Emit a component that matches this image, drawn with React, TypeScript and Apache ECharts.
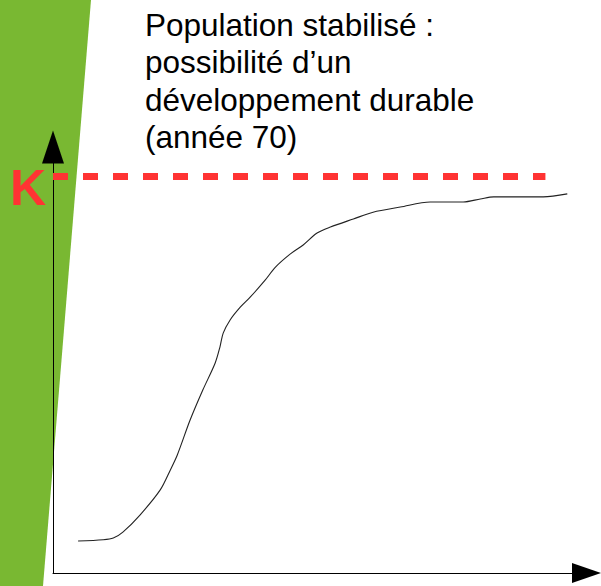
import React, { useEffect, useRef } from "react";
import * as echarts from "echarts";

// Logistic-style population curve (x: time 0..100, y: population 0..100)
const timeValues = [4.7, 9.4, 11.3, 13.1, 16.3, 20.1, 22.0, 23.3, 25.7, 28.1, 30.4, 31.3, 31.9, 33.2, 35.1, 37.0, 39.8, 41.7, 44.5, 46.9, 49.5, 52.0, 56.3, 60.0, 65.1, 70.7, 76.9, 80.1, 82.6, 91.9, 96.4];
const populationValues = [7.5, 7.8, 8.2, 9.6, 13.6, 19.5, 24.2, 27.7, 35.9, 43.0, 49.3, 53.1, 56.3, 59.4, 62.4, 64.8, 68.8, 71.8, 74.9, 77.0, 79.8, 81.2, 83.1, 84.7, 85.9, 87.1, 87.1, 87.8, 88.3, 88.3, 89.0];
const capacityK = 93.2;
const capacityLineEnd = 92.3;
const titleLines = ["Population stabilisé :", "possibilité d\u2019un", "développement durable", "(année 70)"];
const capacityLabel = "K";

export default function App() {
  const ref = useRef<HTMLDivElement>(null);
  useEffect(() => {
    if (!ref.current) return;
    const chart = echarts.init(ref.current, null, { renderer: "svg" });
    const data = timeValues.map((t, i) => [t, populationValues[i]]);
    chart.setOption({
      animation: false,
      backgroundColor: "#ffffff",
      grid: { left: 53, top: 147, right: 14.5, bottom: 13 },
      xAxis: {
        type: "value",
        min: 0,
        max: 100,
        axisLine: {
          show: true,
          lineStyle: { color: "#000", width: 1 },
          symbol: ["none", "triangle"],
          symbolSize: [20, 29],
        },
        axisTick: { show: false },
        axisLabel: { show: false },
        splitLine: { show: false },
      },
      yAxis: {
        type: "value",
        min: 0,
        max: 100,
        axisLine: {
          show: true,
          lineStyle: { color: "#000", width: 1 },
          symbol: ["none", "triangle"],
          symbolSize: [22, 33],
        },
        axisTick: { show: false },
        axisLabel: { show: false },
        splitLine: { show: false },
      },
      graphic: [
        {
          type: "polygon",
          z: -10,
          shape: { points: [[0, 0], [91, 0], [43, 586], [0, 586]] },
          style: { fill: "#79b832" },
          silent: true,
        },
        {
          type: "text",
          x: 145,
          y: 6,
          z: 10,
          style: {
            text: titleLines.join("\n"),
            fill: "#000",
            font: "31.5px 'Liberation Sans', Arial, sans-serif",
            lineHeight: 37.5,
            textAlign: "left",
            textVerticalAlign: "top",
          },
        },
        {
          type: "text",
          x: 10,
          y: 163,
          z: 10,
          style: {
            text: capacityLabel,
            fill: "#ff3333",
            font: "bold 50px 'Liberation Sans', Arial, sans-serif",
            textAlign: "left",
            textVerticalAlign: "top",
          },
        },
      ],
      series: [
        {
          type: "line",
          data,
          smooth: 0.3,
          showSymbol: false,
          symbol: "none",
          lineStyle: { color: "#222", width: 1.1 },
          markLine: {
            silent: true,
            symbol: ["none", "none"],
            label: { show: false },
            lineStyle: { color: "#ff3333", width: 7, type: [15, 15], opacity: 1 },
            data: [
              [
                { coord: [0, capacityK] },
                { coord: [capacityLineEnd, capacityK] },
              ],
            ],
          },
        },
      ],
    });
    return () => chart.dispose();
  }, []);
  return (
    <div
      ref={ref}
      style={{ position: "fixed", left: 0, top: 0, width: 601, height: 586 }}
    />
  );
}
